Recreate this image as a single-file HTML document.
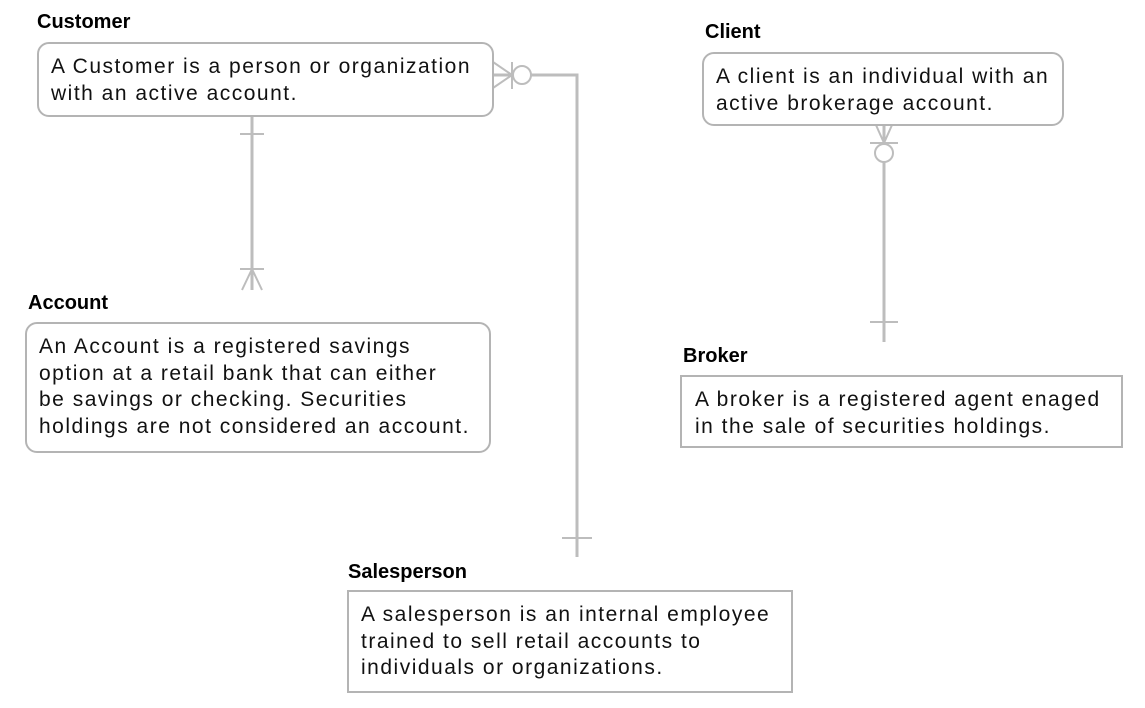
<!DOCTYPE html>
<html><head><meta charset="utf-8"><style>
body{margin:0;width:1145px;height:708px;background:#fff;position:relative;overflow:hidden;font-family:"Liberation Sans",sans-serif;}
.t{position:absolute;font-weight:bold;font-size:20px;letter-spacing:0px;color:#000;}
.b{position:absolute;box-sizing:border-box;border:2px solid #b4b4b4;font-size:21px;line-height:26.5px;letter-spacing:1.5px;color:#111;padding:10px 0 0 12px;white-space:nowrap;}
.r{border-radius:12px;}
svg{position:absolute;left:0;top:0;}
</style></head><body>
<svg width="1145" height="708" stroke="#bdbdbd" stroke-width="3" fill="none">
<line x1="252" y1="116" x2="252" y2="290"/>
<line x1="240" y1="134" x2="264" y2="134" stroke-width="2"/>
<line x1="240" y1="269" x2="264" y2="269" stroke-width="2"/>
<line x1="252" y1="269" x2="242" y2="290" stroke-width="2"/>
<line x1="252" y1="269" x2="262" y2="290" stroke-width="2"/>
<polyline points="493,75 577,75 577,557"/>
<line x1="493" y1="62" x2="512" y2="75" stroke-width="2"/>
<line x1="493" y1="88" x2="512" y2="75" stroke-width="2"/>
<line x1="512" y1="62" x2="512" y2="89" stroke-width="2"/>
<circle cx="522" cy="75" r="9" fill="#fff" stroke-width="2"/>
<line x1="562" y1="538" x2="592" y2="538" stroke-width="2"/>
<line x1="884" y1="125" x2="884" y2="342"/>
<line x1="876" y1="125" x2="884" y2="143" stroke-width="2"/>
<line x1="892" y1="125" x2="884" y2="143" stroke-width="2"/>
<line x1="870" y1="143" x2="898" y2="143" stroke-width="2"/>
<circle cx="884" cy="153" r="9" fill="#fff" stroke-width="2"/>
<line x1="870" y1="322" x2="898" y2="322" stroke-width="2"/>
</svg>
<div class="t" style="left:37px;top:11px">Customer</div>
<div class="b r" style="left:37px;top:42px;width:457px;height:75px">A Customer is a person or organization<br>with an active account.</div>
<div class="t" style="left:28px;top:292px">Account</div>
<div class="b r" style="left:25px;top:322px;width:466px;height:131px">An Account is a registered savings<br>option at a retail bank that can either<br>be savings or checking. Securities<br>holdings are not considered an account.</div>
<div class="t" style="left:705px;top:21px">Client</div>
<div class="b r" style="left:702px;top:52px;width:362px;height:74px">A client is an individual with an<br>active brokerage account.</div>
<div class="t" style="left:683px;top:345px">Broker</div>
<div class="b" style="left:680px;top:375px;width:443px;height:73px;padding-left:13px">A broker is a registered agent enaged<br>in the sale of securities holdings.</div>
<div class="t" style="left:348px;top:561px">Salesperson</div>
<div class="b" style="left:347px;top:590px;width:446px;height:103px">A salesperson is an internal employee<br>trained to sell retail accounts to<br>individuals or organizations.</div>
</body></html>
